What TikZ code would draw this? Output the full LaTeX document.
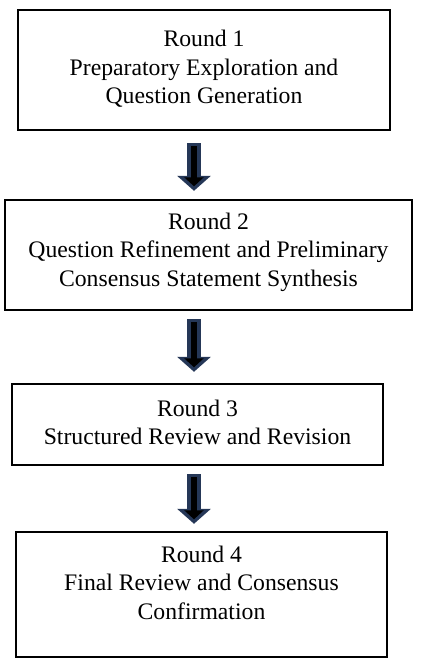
\documentclass[tikz,border=0pt]{standalone}
\usepackage{fontspec}
\setmainfont{Liberation Serif}
\usepackage{tikz}
\tikzset{>=stealth}
\usetikzlibrary{arrows.meta, positioning, calc}
\definecolor{arrownavy}{RGB}{37,55,87}
\begin{document}
\begin{tikzpicture}[x=1pt, y=-1pt,
        roundbox/.style={draw, line width=2.4pt, inner sep=0pt},
        roundtext/.style={align=center, inner sep=0pt, font=\fontsize{23.7}{28.5}\selectfont},
        blockarrow/.style={draw=black, line width=6pt, shorten <=3pt, shorten >=4.5pt,
            -{Triangle[width=19pt,length=9pt]},
            preaction={draw=arrownavy, line width=13.5pt, shorten <=0pt, shorten >=0pt,
            -{Triangle[width=33pt,length=15pt]}}}]
    \useasboundingbox (0,0) rectangle (420,668);
    % boxes
    \node[roundbox, minimum width=372pt, minimum height=120pt] (r1) at (204,70) {};
    \node[roundbox, minimum width=407pt, minimum height=110pt] (r2) at (208.5,255) {};
    \node[roundbox, minimum width=371pt, minimum height=81pt] (r3) at (197.5,424.5) {};
    \node[roundbox, minimum width=371pt, minimum height=125pt] (r4) at (201.5,594.5) {};
    % texts
    \node[roundtext] (t1) at (204,69) {Round 1\\Preparatory Exploration and\\Question Generation};
    \node[roundtext] (t2) at (208.5,252) {Round 2\\Question Refinement and Preliminary\\Consensus Statement Synthesis};
    \node[roundtext] (t3) at (197.5,422.5) {Round 3\\Structured Review and Revision};
    \node[roundtext] (t4) at (201.5,582.5) {Round 4\\Final Review and Consensus\\Confirmation};
    % arrows
    \coordinate (axis) at (194,0);
    \draw[blockarrow] ($(r1.south -| axis)+(0,12)$) -- ($(r2.north -| axis)+(0,-8)$);
    \draw[blockarrow] ($(r2.south -| axis)+(0,8)$) -- ($(r3.north -| axis)+(0,-11)$);
    \draw[blockarrow] ($(r3.south -| axis)+(0,8)$) -- ($(r4.north -| axis)+(0,-7)$);
\end{tikzpicture}
\end{document}
